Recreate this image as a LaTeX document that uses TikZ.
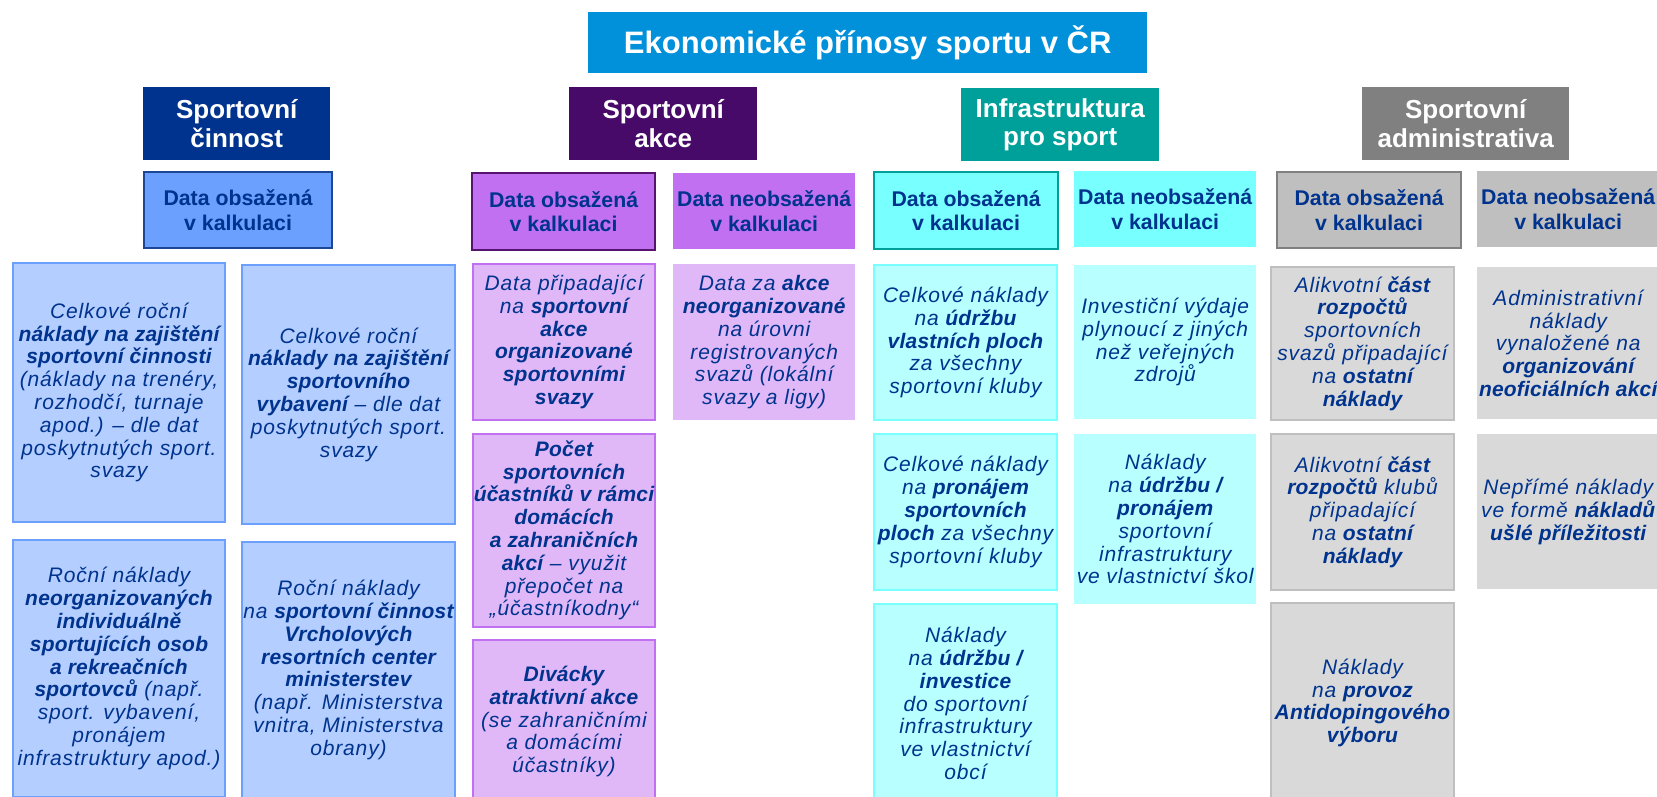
\documentclass[tikz,border=0pt]{standalone}
\usepackage{fontspec}
\setmainfont{Liberation Sans}[ItalicFeatures={LetterSpace=4},BoldItalicFeatures={LetterSpace=1}]
\definecolor{cTitle}{RGB}{0,145,218}
\definecolor{cBlue}{RGB}{0,51,141}
\definecolor{cPurple}{RGB}{71,10,104}
\definecolor{cTeal}{RGB}{0,160,154}
\definecolor{cGray}{RGB}{128,128,128}
\definecolor{cText}{RGB}{0,51,141}
\definecolor{sBlue}{RGB}{108,160,255}
\definecolor{sBlueD}{RGB}{30,70,150}
\definecolor{lBlue}{RGB}{180,206,255}
\definecolor{sPurple}{RGB}{192,112,240}
\definecolor{sPurpleD}{RGB}{85,20,110}
\definecolor{lPurple}{RGB}{224,184,248}
\definecolor{sCyan}{RGB}{120,255,255}
\definecolor{sCyanD}{RGB}{0,160,154}
\definecolor{lCyan}{RGB}{184,255,255}
\definecolor{sGray}{RGB}{191,191,191}
\definecolor{sGrayD}{RGB}{128,128,128}
\definecolor{lGray}{RGB}{217,217,217}
\newcommand\place[7]{\node[#2, anchor=north west, minimum width={#5-#3}, minimum height={#6-#4}] (#1) at (#3,#4) {#7};}
\begin{document}
\begin{tikzpicture}[x=1pt,y=-1pt,
  titlebox/.style={fill=cTitle, text=white, font=\bfseries\fontsize{31}{36}\selectfont, inner sep=0pt, align=center},
  catbox/.style={fill=#1, text=white, font=\bfseries\fontsize{26}{28.5}\selectfont, inner sep=0pt, align=center},
  subbox/.style={fill=#1, text=cText, font=\bfseries\fontsize{21.3}{24.3}\selectfont, inner sep=0pt, align=center},
  subobs/.style 2 args={subbox=#1, draw=#2, line width=2.2pt},
  itembox/.style={fill=#1, text=cText, font=\itshape\fontsize{21}{22.8}\selectfont, inner sep=0pt, align=center},
  itemobs/.style 2 args={itembox=#1, draw=#2, line width=2pt}
]
\useasboundingbox (0,0) rectangle (1657,797);
\clip (0,0) rectangle (1657,797);

% title
\place{title}{titlebox}{588}{12}{1147}{73}{Ekonomické přínosy sportu v ČR}

% categories
\place{c1}{catbox=cBlue}{143}{87}{330}{160}{Sportovní\\činnost}
\place{c2}{catbox=cPurple}{569}{87}{757}{160}{Sportovní\\akce}
\place{c3}{catbox=cTeal}{961}{88}{1159}{161}{Infrastruktura\\pro sport}
\place{c4}{catbox=cGray}{1362}{87}{1569}{160}{Sportovní\\administrativa}

% sub headers
\place{s1o}{subobs={sBlue}{sBlueD}}{143}{171}{331}{247}{Data obsažená\\v kalkulaci}
\place{s2o}{subobs={sPurple}{sPurpleD}}{471}{172}{654}{249}{Data obsažená\\v kalkulaci}
\place{s2n}{subbox=sPurple}{673}{173}{855}{249}{Data neobsažená\\v kalkulaci}
\place{s3o}{subobs={sCyan}{sCyanD}}{873}{171}{1057}{248}{Data obsažená\\v kalkulaci}
\place{s3n}{subbox=sCyan}{1074}{171}{1256}{247}{Data neobsažená\\v kalkulaci}
\place{s4o}{subobs={sGray}{sGrayD}}{1276}{171}{1460}{247}{Data obsažená\\v kalkulaci}
\place{s4n}{subbox=sGray}{1477}{171}{1659}{247}{Data neobsažená\\v kalkulaci}

% column 1
\place{a1}{itemobs={lBlue}{sBlue}}{12}{262}{224}{521}{Celkové roční\\\textbf{náklady na zajištění}\\\textbf{sportovní činnosti}\\(náklady na trenéry,\\rozhodčí, turnaje\\apod.) – dle dat\\poskytnutých sport.\\svazy}
\place{a2}{itemobs={lBlue}{sBlue}}{241}{264}{454}{523}{Celkové roční\\\textbf{náklady na zajištění}\\\textbf{sportovního}\\\textbf{vybavení} – dle dat\\poskytnutých sport.\\svazy}
\place{a3}{itemobs={lBlue}{sBlue}}{12}{539}{224}{796}{Roční náklady\\\textbf{neorganizovaných}\\\textbf{individuálně}\\\textbf{sportujících osob}\\\textbf{a rekreačních}\\\textbf{sportovců} (např.\\sport. vybavení,\\pronájem\\infrastruktury apod.)}
\place{a4}{itemobs={lBlue}{sBlue}}{241}{541}{454}{797}{Roční náklady\\na \textbf{sportovní činnost}\\\textbf{Vrcholových}\\\textbf{resortních center}\\\textbf{ministerstev}\\(např. Ministerstva\\vnitra, Ministerstva\\obrany)}

% column 2
\place{b1}{itemobs={lPurple}{sPurple}}{472}{263}{654}{419}{Data připadající\\na \textbf{sportovní}\\\textbf{akce}\\\textbf{organizované}\\\textbf{sportovními}\\\textbf{svazy}}
\place{b2}{itemobs={lPurple}{sPurple}}{472}{433}{654}{626}{\textbf{Počet}\\\textbf{sportovních}\\\textbf{účastníků v rámci}\\\textbf{domácích}\\\textbf{a zahraničních}\\\textbf{akcí} – využit\\přepočet na\\„účastníkodny“}
\place{b3}{itemobs={lPurple}{sPurple}}{472}{639}{654}{802}{\textbf{Divácky}\\\textbf{atraktivní akce}\\(se zahraničními\\a domácími\\účastníky)}
\place{b4}{itembox=lPurple}{673}{264}{855}{420}{Data za \textbf{akce}\\\textbf{neorganizované}\\na úrovni\\registrovaných\\svazů (lokální\\svazy a ligy)}

% column 3
\place{d1}{itemobs={lCyan}{sCyan}}{873}{264}{1056}{419}{Celkové náklady\\na \textbf{údržbu}\\\textbf{vlastních ploch}\\za všechny\\sportovní kluby}
\place{d2}{itemobs={lCyan}{sCyan}}{873}{433}{1056}{589}{Celkové náklady\\na \textbf{pronájem}\\\textbf{sportovních}\\\textbf{ploch} za všechny\\sportovní kluby}
\place{d3}{itemobs={lCyan}{sCyan}}{873}{603}{1056}{802}{Náklady\\na \textbf{údržbu /}\\\textbf{investice}\\do sportovní\\infrastruktury\\ve vlastnictví\\obcí}
\place{d4}{itembox=lCyan}{1074}{265}{1256}{419}{Investiční výdaje\\plynoucí z jiných\\než veřejných\\zdrojů}
\place{d5}{itembox=lCyan}{1074}{434}{1256}{604}{Náklady\\na \textbf{údržbu /}\\\textbf{pronájem}\\sportovní\\infrastruktury\\ve vlastnictví škol}

% column 4
\place{e1}{itemobs={lGray}{sGray}}{1270}{266}{1453}{419}{Alikvotní \textbf{část}\\\textbf{rozpočtů}\\sportovních\\svazů připadající\\na \textbf{ostatní}\\\textbf{náklady}}
\place{e2}{itemobs={lGray}{sGray}}{1270}{433}{1453}{589}{Alikvotní \textbf{část}\\\textbf{rozpočtů} klubů\\připadající\\na \textbf{ostatní}\\\textbf{náklady}}
\place{e3}{itemobs={lGray}{sGray}}{1270}{602}{1453}{802}{Náklady\\na \textbf{provoz}\\\textbf{Antidopingového}\\\textbf{výboru}}
\place{e4}{itembox=lGray}{1477}{267}{1659}{419}{Administrativní\\náklady\\vynaložené na\\\textbf{organizování}\\\textbf{neoficiálních akcí}}
\place{e5}{itembox=lGray}{1477}{434}{1659}{589}{Nepřímé náklady\\ve formě \textbf{nákladů}\\\textbf{ušlé příležitosti}}
\end{tikzpicture}
\end{document}
